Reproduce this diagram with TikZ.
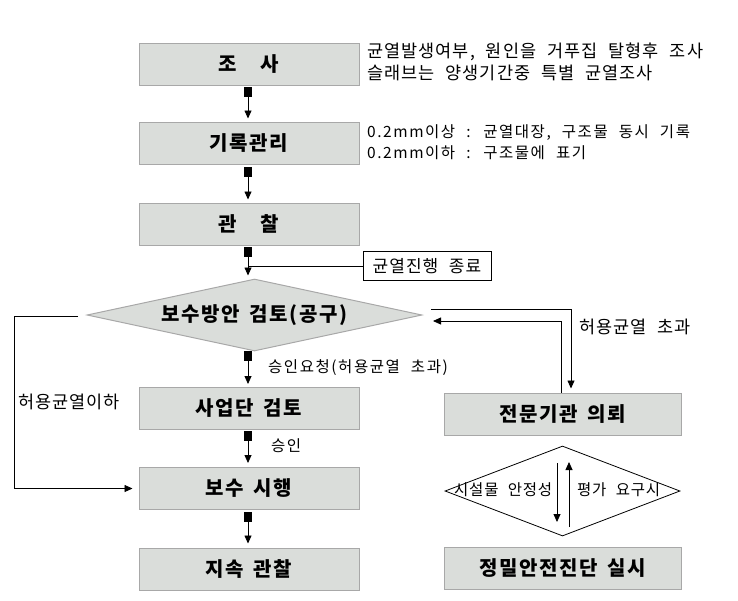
\documentclass[tikz,border=0pt]{standalone}
\usepackage{fontspec}
\setmainfont{Noto Sans CJK KR}
\newfontfamily\kr{Noto Sans CJK KR}[WordSpace=2.2,LetterSpace=6]
\newfontfamily\krs{Noto Sans CJK KR}[WordSpace=2.2,LetterSpace=10]
\newfontfamily\krt{Noto Sans CJK KR}[WordSpace=2.2,LetterSpace=5]
\newfontfamily\krb{Noto Sans CJK KR}[WordSpace=1.6,LetterSpace=8]
\usetikzlibrary{arrows.meta,shapes.geometric}
\definecolor{boxfill}{HTML}{DADDDA}
\definecolor{boxline}{HTML}{A8A8A8}
\tikzset{
  box/.style={draw=boxline, line width=1pt, fill=boxfill, minimum width=220pt, minimum height=42pt, inner sep=0pt, font=\krb\bfseries\fontsize{20}{23}\selectfont},
  rbox/.style={box, minimum width=237pt},
  maindia/.style={shape=diamond, draw=boxline, line width=1pt, fill=boxfill, minimum width=335pt, minimum height=72pt, inner sep=0pt, aspect=4.65, font=\krb\bfseries\fontsize{20}{23}\selectfont},
  smalldia/.style={shape=diamond, draw=black, line width=0.8pt, fill=white, minimum width=235pt, minimum height=90pt, inner sep=0pt, aspect=2.6},
  sq/.style={fill=black, minimum width=8pt, minimum height=10pt, inner sep=0pt},
  arr/.style={-{Triangle[length=8pt,width=7pt]}, line width=0.8pt},
  ln/.style={line width=0.8pt},
  ann/.style={font=\kr\fontsize{17.5}{20}\selectfont, anchor=west, inner sep=0pt},
  annsm/.style={font=\krs\fontsize{15.5}{18}\selectfont, anchor=west, inner sep=0pt},
  anndia/.style={font=\krt\fontsize{15.5}{18}\selectfont, anchor=west, inner sep=0pt},
}
\begin{document}
\begin{tikzpicture}[x=1pt,y=-1pt]
\useasboundingbox (0,0) rectangle (738,600);
% left column
\node[box] (b1) at (249,64) {조\hspace{1.2em}사};
\node[box] (b2) at (249,143) {기록관리};
\node[box] (b3) at (249,224) {관\hspace{1.2em}찰};
\node[maindia] (d1) at (254.5,315) {보수방안 검토(공구)};
\node[box] (b4) at (249,408.5) {사업단 검토};
\node[box] (b5) at (249,488.5) {보수 시행};
\node[box] (b6) at (249,569) {지속 관찰};
% right column
\node[rbox] (r1) at (562.5,414) {전문기관 의뢰};
\node[smalldia] (d2) at (562.5,491) {};
\node[rbox] (r2) at (562.5,568) {정밀안전진단 실시};
% squares
\node[sq] (s1) at (248,92) {};
\node[sq] (s2) at (248,172) {};
\node[sq] (s3) at (248,252) {};
\node[sq] (s4) at (248,356) {};
\node[sq] (s5) at (248,436) {};
\node[sq] (s6) at (248,517) {};
% vertical arrows
\draw[arr, shorten >=3pt] (s1.south) -- (s1.south |- b2.north);
\draw[arr, shorten >=3pt] (s2.south) -- (s2.south |- b3.north);
\draw[arr, shorten >=3pt] (s3.south) -- (s3.south |- d1.north);
\draw[arr, shorten >=3pt] (s4.south) -- (s4.south |- b4.north);
\draw[arr, shorten >=4pt] (s5.south) -- (s5.south |- b5.north);
\draw[arr, shorten >=4pt] (s6.south) -- (s6.south |- b6.north);
% end box
\node[draw, line width=0.8pt, minimum width=128pt, minimum height=29pt, inner sep=0pt, font=\kr\fontsize{17}{20}\selectfont] (e1) at (427,266) {균열진행 종료};
\draw[ln] (s3.south |- e1.west) -- (e1.west);
% annotations
\node[ann] (t1) at (367,52) {균열발생여부, 원인을 거푸집 탈형후 조사};
\node[ann] (t2) at (367,73) {슬래브는 양생기간중 특별 균열조사};
\node[annsm] (t3) at (367,133) {0.2mm이상 : 균열대장, 구조물 동시 기록};
\node[annsm] (t4) at (367,153) {0.2mm이하 : 구조물에 표기};
\node[annsm] (t5) at (268,368) {승인요청(허용균열 초과)};
\node[annsm] (t6) at (271,446) {승인};
\node[ann] (t7) at (18,402) {허용균열이하};
\node[ann] (t8) at (579,327) {허용균열 초과};
% left loop
\coordinate (a1) at (78,316);
\coordinate (a2) at (14,316);
\draw[arr, shorten >=6pt] (a1) -- (a2) |- (b5.west);
% right loop
\coordinate (u1) at (431,309);
\coordinate (u2) at (571,309);
\draw[arr, shorten >=4pt] (u1) -- (u2) -- (u2 |- r1.north);
\coordinate (l1) at (561,321);
\coordinate (l2) at (433,321);
\draw[arr] (l1 |- r1.north) -- (l1) -- (l2);
% small diamond texts and arrows
\node[anndia] (t9) at (454,490) {시설물 안정성};
\node[anndia] (t10) at (577,490) {평가 요구시};
\coordinate (p1) at (557,463);
\coordinate (p2) at (557,522);
\coordinate (q1) at (569,527);
\coordinate (q2) at (569,462);
\draw[arr] (p1) -- (p2);
\draw[arr] (q1) -- (q2);
\end{tikzpicture}
\end{document}
